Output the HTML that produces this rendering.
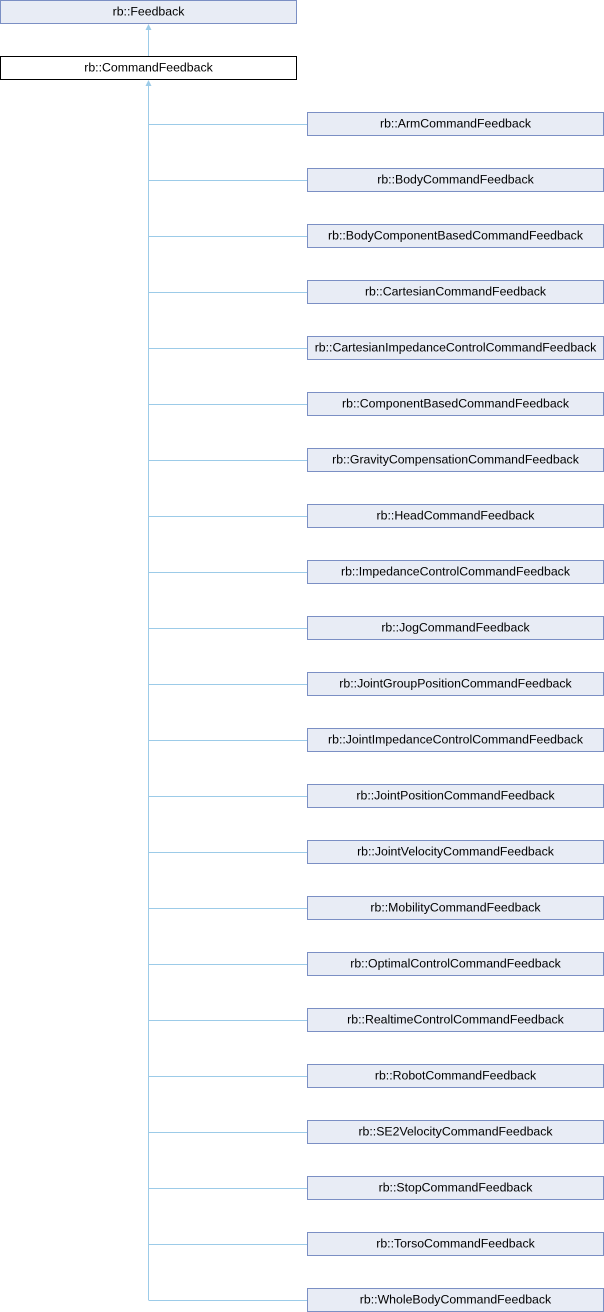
<!DOCTYPE html>
<html><head><meta charset="utf-8"><style>
html,body{margin:0;padding:0;background:#fff;}
svg{display:block;}
text{font-family:"Liberation Sans",Arial,sans-serif;font-size:12.3px;fill:#000;}
</style></head><body>
<svg width="604" height="1312" viewBox="0 0 604 1312" xmlns="http://www.w3.org/2000/svg">
<g shape-rendering="crispEdges">
<rect x="0.5" y="0.5" width="296" height="23" fill="#e8ecf5" stroke="#7b8fc4"/>
<rect x="0.5" y="56.5" width="296" height="23" fill="#fff" stroke="#000"/>
<line x1="148.5" y1="28" x2="148.5" y2="56" stroke="#9ccbe8"/>
<line x1="148.5" y1="84" x2="148.5" y2="1300.5" stroke="#9ccbe8"/>
</g>
<polygon points="148.5,24 145.5,30 151.5,30" fill="#9ccbe8"/>
<polygon points="148.5,80 145.5,86 151.5,86" fill="#9ccbe8"/>
<text x="148.5" y="15.3" text-anchor="middle">rb::Feedback</text>
<text x="148.5" y="71.3" text-anchor="middle">rb::CommandFeedback</text>
<g id="kids"></g>
</svg>
<script>
var names=["rb::ArmCommandFeedback","rb::BodyCommandFeedback","rb::BodyComponentBasedCommandFeedback","rb::CartesianCommandFeedback","rb::CartesianImpedanceControlCommandFeedback","rb::ComponentBasedCommandFeedback","rb::GravityCompensationCommandFeedback","rb::HeadCommandFeedback","rb::ImpedanceControlCommandFeedback","rb::JogCommandFeedback","rb::JointGroupPositionCommandFeedback","rb::JointImpedanceControlCommandFeedback","rb::JointPositionCommandFeedback","rb::JointVelocityCommandFeedback","rb::MobilityCommandFeedback","rb::OptimalControlCommandFeedback","rb::RealtimeControlCommandFeedback","rb::RobotCommandFeedback","rb::SE2VelocityCommandFeedback","rb::StopCommandFeedback","rb::TorsoCommandFeedback","rb::WholeBodyCommandFeedback"];
var g=document.getElementById("kids"),h="";
for(var i=0;i<names.length;i++){var y=112+56*i;
h+='<line x1="149" y1="'+(y+12.5)+'" x2="307" y2="'+(y+12.5)+'" stroke="#9ccbe8" shape-rendering="crispEdges"/>';
h+='<rect x="307.5" y="'+(y+0.5)+'" width="296" height="23" fill="#e8ecf5" stroke="#7b8fc4" shape-rendering="crispEdges"/>';
h+='<text x="455.5" y="'+(y+15.3)+'" text-anchor="middle">'+names[i]+'</text>';}
g.innerHTML=h;
</script>
</body></html>
